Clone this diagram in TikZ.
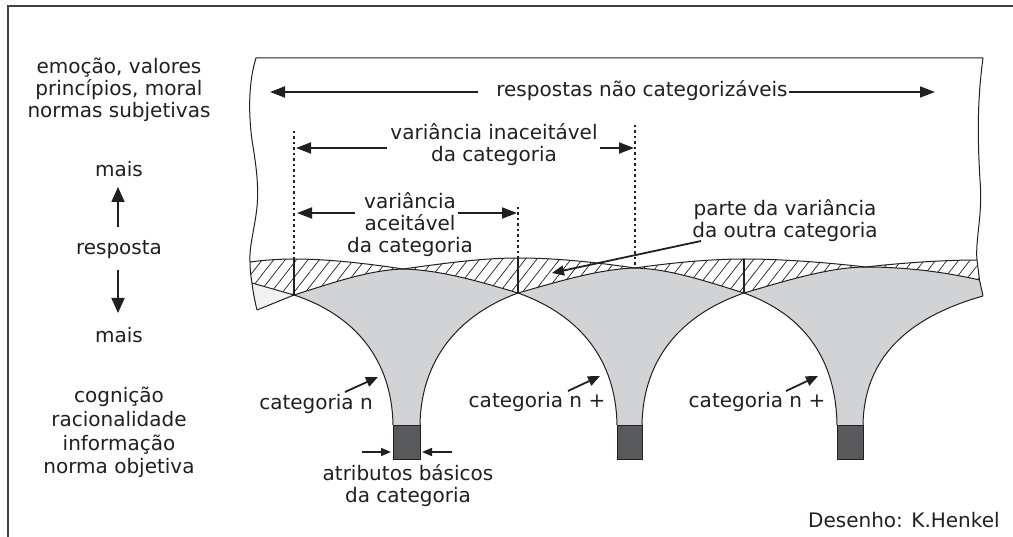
\documentclass[tikz,border=0pt]{standalone}
\usepackage{fontspec}
\setmainfont{DejaVu Sans}
\usetikzlibrary{arrows.meta,patterns.meta}
\definecolor{txt}{HTML}{231F20}
\definecolor{ln}{HTML}{231F20}
\definecolor{catgray}{HTML}{D1D3D4}
\definecolor{lightg}{HTML}{F1F1F2}
\definecolor{stemc}{HTML}{58595B}
\definecolor{framec}{HTML}{404040}
\begin{document}
\begin{tikzpicture}[x=1pt,y=-1pt,
  lab/.style={font=\fontsize{20}{22}\selectfont, text=txt, inner sep=0pt, anchor=base},
  bigarr/.style={draw=ln, line width=1.8pt, -{Triangle[length=15pt,width=11pt]}},
  vertarr/.style={draw=ln, line width=1.8pt, -{Triangle[length=15pt,width=13pt]}},
  midarr/.style={draw=ln, line width=1.8pt, -{Triangle[length=12pt,width=10pt]}},
  smallarr/.style={draw=ln, line width=1.6pt, -{Triangle[length=10pt,width=8pt]}},
  outl/.style={draw=ln, line width=1pt},
  divl/.style={draw=ln, line width=2pt},
  dotl/.style={draw=ln, line width=1.4pt, dash pattern=on 2.5pt off 3pt},
  hatch/.style={pattern={Lines[angle=52,distance=9pt,line width=0.7pt]}, pattern color=ln},
  stembox/.style={fill=stemc, draw=ln, line width=0.8pt}
]
\useasboundingbox (0,0) rectangle (1013,537);
\fill[white] (0,0) rectangle (1013,537);

% outer frame (top and left)
\draw[framec, line width=2pt] (8,537) -- (8,6) -- (1013,6);

% hatched band
\fill[hatch] (250,262) .. controls (265,260) and (280,259) .. (294,259)
 .. controls (330,259) and (370,264) .. (403,269)
 .. controls (440,264) and (480,258) .. (518,258)
 .. controls (560,258) and (600,263) .. (635,268)
 .. controls (670,263) and (710,259) .. (744,259)
 .. controls (785,259) and (830,263) .. (866,267)
 .. controls (900,263) and (945,260) .. (977,260)
 -- (979.5,280)
 .. controls (945,272) and (905,267) .. (866,267)
 .. controls (830,267) and (785,281) .. (744,293)
 .. controls (705,281) and (670,269) .. (635,268)
 .. controls (600,269) and (560,281) .. (518,293)
 .. controls (478,281) and (440,270) .. (403,269)
 .. controls (370,270) and (335,282) .. (294,295)
 -- (252,283)
 .. controls (251,277) and (250,270) .. (250,262) -- cycle;

% light triangle on the left
\fill[lightg] (252,283) -- (294,295) -- (257,310) .. controls (255,302) and (253,292) .. (252,283) -- cycle;

% grey category shapes
\fill[catgray] (294,295) .. controls (335,282) and (370,270) .. (403,269)
 .. controls (440,270) and (478,281) .. (518,293)
 .. controls (458,315) and (421,360) .. (420,425) -- (393,425)
 .. controls (392,360) and (355,315) .. (294,295) -- cycle;
\fill[catgray] (518,293) .. controls (560,281) and (600,269) .. (635,268)
 .. controls (670,269) and (705,281) .. (744,293)
 .. controls (680,315) and (643,360) .. (642,425) -- (617,425)
 .. controls (616,360) and (580,315) .. (518,293) -- cycle;
\fill[catgray] (744,293) .. controls (785,281) and (830,267) .. (866,267)
 .. controls (905,267) and (945,272) .. (979.5,280) -- (983,296)
 .. controls (905,318) and (864,360) .. (863,425) -- (837,425)
 .. controls (836,360) and (805,315) .. (744,293) -- cycle;

% outlines
\draw[outl] (250,262) .. controls (265,260) and (280,259) .. (294,259)
 .. controls (330,259) and (370,264) .. (403,269)
 .. controls (440,264) and (480,258) .. (518,258)
 .. controls (560,258) and (600,263) .. (635,268)
 .. controls (670,263) and (710,259) .. (744,259)
 .. controls (785,259) and (830,263) .. (866,267)
 .. controls (900,263) and (945,260) .. (977,260);
\draw[outl] (252,283) -- (294,295) .. controls (335,282) and (370,270) .. (403,269)
 .. controls (440,270) and (478,281) .. (518,293)
 .. controls (560,281) and (600,269) .. (635,268)
 .. controls (670,269) and (705,281) .. (744,293)
 .. controls (785,281) and (830,267) .. (866,267)
 .. controls (905,267) and (945,272) .. (979.5,280);
\draw[outl] (257,310) -- (294,295);
\draw[outl] (294,295) .. controls (355,315) and (392,360) .. (393,425);
\draw[outl] (518,293) .. controls (458,315) and (421,360) .. (420,425);
\draw[outl] (518,293) .. controls (580,315) and (616,360) .. (617,425);
\draw[outl] (744,293) .. controls (680,315) and (643,360) .. (642,425);
\draw[outl] (744,293) .. controls (805,315) and (836,360) .. (837,425);
\draw[outl] (983,296) .. controls (905,318) and (864,360) .. (863,425);

% box edges
\draw[outl] (983,58) -- (256,58)
 .. controls (249,80) and (248,110) .. (252,140)
 .. controls (256,165) and (260,190) .. (256,215)
 .. controls (253,235) and (249,250) .. (250,262)
 .. controls (250,270) and (251,277) .. (252,283)
 .. controls (253,292) and (255,302) .. (257,310);
\draw[outl] (983,58) .. controls (978,95) and (977,130) .. (980,180)
 .. controls (983,215) and (975,240) .. (977,260)
 -- (979.5,280) -- (983,296);

% dividers
\draw[divl] (294,259) -- (294,295);
\draw[divl] (518,258) -- (518,293);
\draw[divl] (744,259) -- (744,293);

% stems
\draw[stembox] (393,425) rectangle (420,459);
\draw[stembox] (617,425) rectangle (642,459);
\draw[stembox] (837,425) rectangle (863,459);

% dotted guides
\draw[dotl] (294,131) -- (294,259);
\draw[dotl] (635,125) -- (635,268);
\draw[dotl] (518,207) -- (518,258);

% left column
\node[lab] (e1) at (119,74) {emoção, valores};
\node[lab] (e2) at (119,96) {princípios, moral};
\node[lab] (e3) at (119,118) {normas subjetivas};
\node[lab] (mais1) at (119,177) {mais};
\node[lab] (resposta) at (119,255) {resposta};
\node[lab] (mais2) at (119,343) {mais};
\node[lab] (c1) at (119,403) {cognição};
\node[lab] (c2) at (119,427) {racionalidade};
\node[lab] (c3) at (119,450) {informação};
\node[lab] (c4) at (119,474) {norma objetiva};
\coordinate (upS) at (118,227); \coordinate (upT) at (118,187);
\coordinate (dnS) at (118,270); \coordinate (dnT) at (118,313);
\draw[vertarr] (upS) -- (upT);
\draw[vertarr] (dnS) -- (dnT);

% top labels
\node[lab] (resp) at (642,97) {respostas não categorizáveis};
\coordinate (rLs) at (478,92); \coordinate (rLt) at (270,92);
\coordinate (rRs) at (789,92); \coordinate (rRt) at (935,92);
\draw[bigarr] (rLs) -- (rLt);
\draw[bigarr] (rRs) -- (rRt);

\node[lab] (in1) at (494,140) {variância inaceitável};
\node[lab] (in2) at (494,162) {da categoria};
\coordinate (iLs) at (387,148); \coordinate (iLt) at (296,148);
\coordinate (iRs) at (600,148); \coordinate (iRt) at (634,148);
\draw[bigarr] (iLs) -- (iLt);
\draw[bigarr] (iRs) -- (iRt);

\node[lab] (ac1) at (410,209) {variância};
\node[lab] (ac2) at (410,231) {aceitável};
\node[lab] (ac3) at (410,253) {da categoria};
\coordinate (aLs) at (355,213); \coordinate (aLt) at (297,213);
\coordinate (aRs) at (458,213); \coordinate (aRt) at (517,213);
\draw[bigarr] (aLs) -- (aLt);
\draw[bigarr] (aRs) -- (aRt);

\node[lab] (pa1) at (785,216) {parte da variância};
\node[lab] (pa2) at (785,238) {da outra categoria};
\coordinate (pS) at (701,241); \coordinate (pT) at (552,273);
\draw[midarr] (pS) -- (pT);

% bottom labels
\node[lab] (cat1) at (316,410) {categoria n};
\coordinate (k1s) at (345,392); \coordinate (k1t) at (378,377);
\draw[midarr] (k1s) -- (k1t);
\node[lab] (cat2) at (537,408) {categoria n +};
\coordinate (k2s) at (568,391); \coordinate (k2t) at (600,376);
\draw[midarr] (k2s) -- (k2t);
\node[lab] (cat3) at (757,408) {categoria n +};
\coordinate (k3s) at (786,391); \coordinate (k3t) at (818,376);
\draw[midarr] (k3s) -- (k3t);

\coordinate (bLs) at (362,452); \coordinate (bLt) at (391,452);
\coordinate (bRs) at (452,452); \coordinate (bRt) at (422,452);
\draw[smallarr] (bLs) -- (bLt);
\draw[smallarr] (bRs) -- (bRt);
\node[lab] (at1) at (408,481) {atributos básicos};
\node[lab] (at2) at (408,502) {da categoria};

\node[lab, anchor=base west] (des) at (808,527) {Desenho: K.Henkel};
\end{tikzpicture}
\end{document}
